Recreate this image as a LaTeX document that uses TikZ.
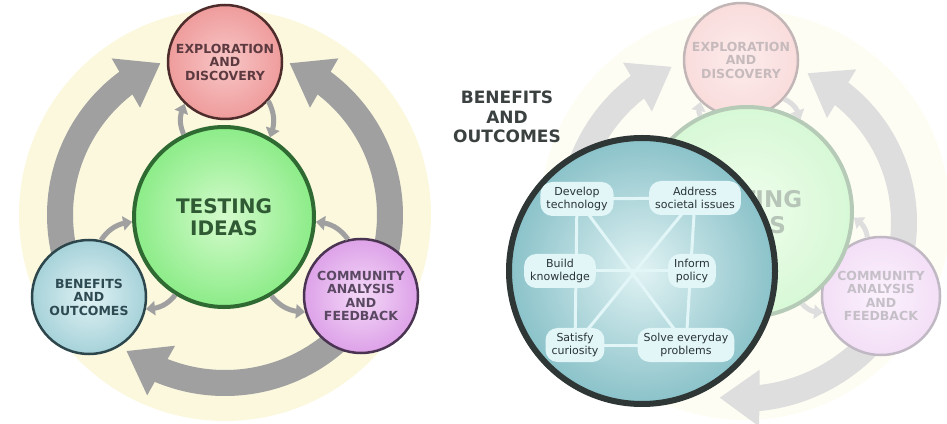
\documentclass[tikz,border=0pt]{standalone}
\usepackage{fontspec}
\setmainfont{DejaVu Sans}
\usetikzlibrary{arrows.meta,bending}
\definecolor{bgyellow}{HTML}{FBF8DE}
\definecolor{arrowgray}{HTML}{A0A0A0}
\definecolor{explorein}{HTML}{F8C6C6}
\definecolor{exploreout}{HTML}{EF9C9C}
\definecolor{exploreline}{HTML}{4E2C2C}
\definecolor{exploretext}{HTML}{5C3A40}
\definecolor{testin}{HTML}{D4FBCC}
\definecolor{testout}{HTML}{8CEC88}
\definecolor{testline}{HTML}{2E6A32}
\definecolor{testtext}{HTML}{2F5A33}
\definecolor{benefitin}{HTML}{E0F2F4}
\definecolor{benefitout}{HTML}{A6D2D9}
\definecolor{benefitline}{HTML}{2C464C}
\definecolor{benefittext}{HTML}{2E4A52}
\definecolor{communityin}{HTML}{F4D8F8}
\definecolor{communityout}{HTML}{DDA2E8}
\definecolor{communityline}{HTML}{4A3452}
\definecolor{communitytext}{HTML}{5A4862}
\definecolor{tealin}{HTML}{E0F2F3}
\definecolor{tealout}{HTML}{8AC2C9}
\definecolor{tealline}{HTML}{2E3636}
\definecolor{itemfill}{HTML}{E2F6F8}
\definecolor{itemtext}{HTML}{2A3436}
\definecolor{titletext}{HTML}{3B4040}
\tikzset{
  bubble/.style={circle, line width=2.5pt, minimum size=114pt, inner sep=0pt, align=center,
    font=\bfseries\fontsize{12.5}{13.5}\selectfont},
  bigarrow/.style={draw=arrowgray, line width=26pt, -{Triangle[length=40pt,width=54pt]}},
  smallarrow/.style={draw=arrowgray, line width=5pt, -{Triangle[length=9pt,width=14pt]}},
  item/.style={fill=itemfill, rounded corners=12pt, minimum height=34pt, inner xsep=6pt,
    align=center, text=itemtext, font=\fontsize{11}{13}\selectfont},
  link/.style={draw=itemfill, line width=3pt}
}
\begin{document}
\begin{tikzpicture}[x=1pt, y=1pt]
\useasboundingbox (0,0) rectangle (947,423);
% left cycle
\fill[bgyellow] (225,208) circle (206);
\coordinate (ring) at (225,208);
\draw[bigarrow] (ring) ++(205:165) arc[start angle=205, end angle=113, radius=165];
\draw[bigarrow] (ring) ++(-35:165) arc[start angle=-35, end angle=67, radius=165];
\draw[bigarrow] (ring) ++(-40:168) arc[start angle=-40, end angle=-126, radius=168];
\node[bubble, draw=exploreline, inner color=explorein, outer color=exploreout, text=exploretext]
  (explore) at (225,361) {EXPLORATION\\AND\\DISCOVERY};
\node[bubble, draw=benefitline, inner color=benefitin, outer color=benefitout, text=benefittext]
  (benefits) at (89,126) {BENEFITS\\AND\\OUTCOMES};
\node[bubble, draw=communityline, inner color=communityin, outer color=communityout, text=communitytext]
  (community) at (361,127) {COMMUNITY\\ANALYSIS\\AND\\FEEDBACK};
\node[bubble, line width=4pt, minimum size=180pt, draw=testline, inner color=testin, outer color=testout,
  text=testtext, font=\bfseries\fontsize{20}{22}\selectfont] (testing) at (224,206) {TESTING\\IDEAS};
\draw[smallarrow] (testing.116) to[bend left=25] (explore.226);
\draw[smallarrow] (explore.-42) to[bend left=25] (testing.60);
\draw[smallarrow] (benefits.78) to[bend left=25] (testing.183);
\draw[smallarrow] (testing.238) to[bend left=25] (benefits.-12);
\draw[smallarrow] (community.103) to[bend right=25] (testing.-3);
\draw[smallarrow] (testing.-59) to[bend right=25] (community.196);
% right cycle, faded
\begin{scope}[transparency group, opacity=0.35]
\fill[bgyellow] (745,208) circle (205);
\coordinate (ring2) at (741,201);
\draw[bigarrow] (ring2) ++(200:170) arc[start angle=200, end angle=114, radius=170];
\draw[bigarrow] (ring2) ++(-35:163) arc[start angle=-35, end angle=66, radius=163];
\draw[bigarrow] (ring2) ++(-35:177) arc[start angle=-35, end angle=-97, radius=177];
\node[bubble, draw=exploreline, inner color=explorein, outer color=exploreout, text=exploretext]
  (explore2) at (741,363) {EXPLORATION\\AND\\DISCOVERY};
\node[bubble, minimum size=118pt, draw=communityline, inner color=communityin, outer color=communityout,
  text=communitytext] (community2) at (881,127) {COMMUNITY\\ANALYSIS\\AND\\FEEDBACK};
\node[bubble, line width=4pt, minimum size=210pt, draw=testline, inner color=testin, outer color=testout,
  text=testtext, font=\bfseries\fontsize{23}{26}\selectfont] (testing2) at (747,211) {TESTING\\IDEAS};
\draw[smallarrow] (testing2.116) to[bend left=25] (explore2.226);
\draw[smallarrow] (explore2.-42) to[bend left=25] (testing2.60);
\draw[smallarrow] (community2.103) to[bend right=25] (testing2.-3);
\draw[smallarrow] (testing2.-59) to[bend right=25] (community2.196);
\end{scope}
% benefits close-up
\node[circle, line width=6pt, minimum size=266pt, draw=tealline, inner color=tealin, outer color=tealout]
  (closeup) at (642,152) {};
\coordinate (develop) at (577,224);
\coordinate (address) at (695,225);
\coordinate (build) at (560,152);
\coordinate (inform) at (692,152);
\coordinate (satisfy) at (575,78);
\coordinate (solve) at (686,78);
\draw[link] (develop) -- (address);
\draw[link] (build) -- (inform);
\draw[link] (satisfy) -- (solve);
\draw[link] (develop) -- (satisfy);
\draw[link] (address) -- (solve);
\draw[link] (develop) -- (solve);
\draw[link] (address) -- (satisfy);
\node[item] at (develop) {Develop\\technology};
\node[item] at (address) {Address\\societal issues};
\node[item] at (build) {Build\\knowledge};
\node[item] at (inform) {Inform\\policy};
\node[item] at (satisfy) {Satisfy\\curiosity};
\node[item] at (solve) {Solve everyday\\problems};
\node[align=center, text=titletext, font=\bfseries\fontsize{17}{19.5}\selectfont]
  (title) at (507,306) {BENEFITS\\AND\\OUTCOMES};
\end{tikzpicture}
\end{document}
